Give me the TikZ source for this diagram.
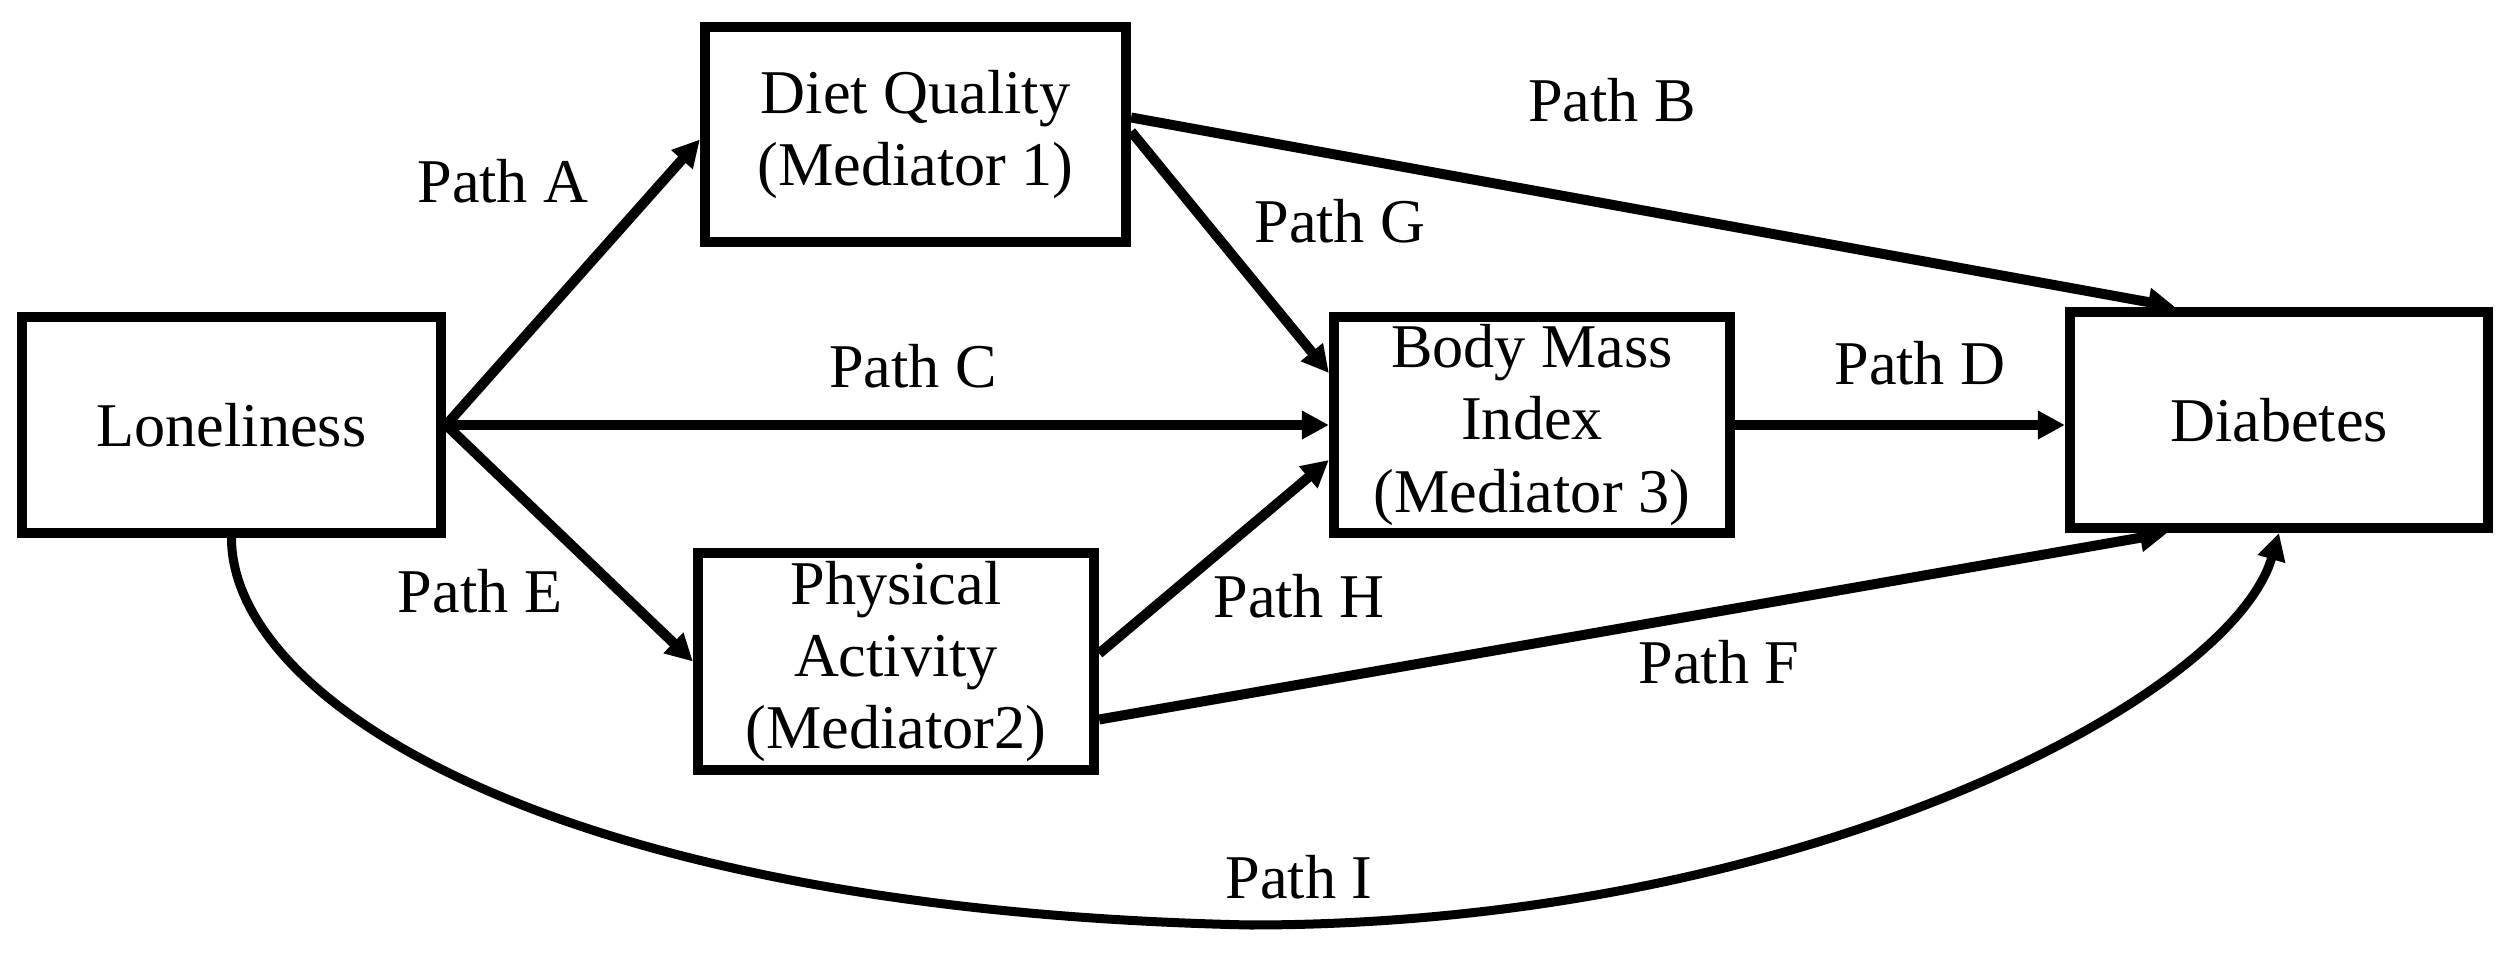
\documentclass[tikz,border=0pt]{standalone}
\usepackage{fontspec}
\setmainfont{Liberation Serif}
\usetikzlibrary{arrows.meta,calc}
\begin{document}
\begin{tikzpicture}[x=0.01cm,y=-0.01cm,
  txt/.style={font=\fontsize{17.7pt}{20.5pt}\selectfont},
  box/.style={txt,draw,line width=0.1cm,align=center,inner sep=0pt},
  lbl/.style={txt,anchor=base,inner sep=0pt},
  conn/.style={line width=0.1cm,-{Triangle[length=0.27cm,width=0.27cm]}},
  curv/.style={line width=0.09cm,-{Triangle[length=0.27cm,width=0.27cm]}}]
\useasboundingbox (0,0) rectangle (2508,961);
% boxes
\node[box,minimum width=4.19cm,minimum height=2.16cm] (lon) at (231.5,425) {Loneliness};
\node[box,minimum width=4.21cm,minimum height=2.15cm] (diet) at (915.5,134.5) {Diet Quality\\(Mediator 1)};
\node[box,minimum width=3.96cm,minimum height=2.16cm] (bmi) at (1532,425) {Body Mass\\Index\\(Mediator 3)};
\node[box,minimum width=4.18cm,minimum height=2.16cm] (dia) at (2279,420) {Diabetes};
\node[box,minimum width=3.96cm,minimum height=2.17cm] (pa) at (896,661.5) {Physical\\Activity\\(Mediator2)};
% connectors
\draw[conn] (lon.east) -- ($(diet.west)+(0,5)$);
\draw[conn] (lon.east) -- (bmi.west);
\draw[conn] (lon.east) -- (pa.west);
\draw[conn] ($(diet.east)+(0,-17)$) -- ($(dia.north)+(-104,0)$);
\draw[conn] ($(diet.east)+(0,-3)$) -- ($(bmi.west)+(0,-52)$);
\draw[conn] ($(pa.east)+(0,-8)$) -- ($(bmi.west)+(0,35)$);
\draw[conn] ($(pa.east)+(0,58)$) -- ($(dia.south)+(-112,0)$);
\draw[conn] (bmi.east) -- (bmi.east -| dia.west);
\coordinate (ibot) at (1250,925);
\draw[curv] (lon.south) .. controls ($(lon.south)+(0,162)$) and (550,910) .. (ibot)
  .. controls (1800,925) and (2230,700) .. (dia.south);
% labels
\node[lbl] (la) at (503,203) {Path A};
\node[lbl] (lb) at (1612,122) {Path B};
\node[lbl] (lc) at (913,388) {Path C};
\node[lbl] (ld) at (1920,385) {Path D};
\node[lbl] (le) at (480,613) {Path E};
\node[lbl] (lf) at (1719,683) {Path F};
\node[lbl] (lg) at (1340,243) {Path G};
\node[lbl] (lh) at (1299,617) {Path H};
\node[lbl] (li) at (1299,898) {Path I};
\end{tikzpicture}
\end{document}
